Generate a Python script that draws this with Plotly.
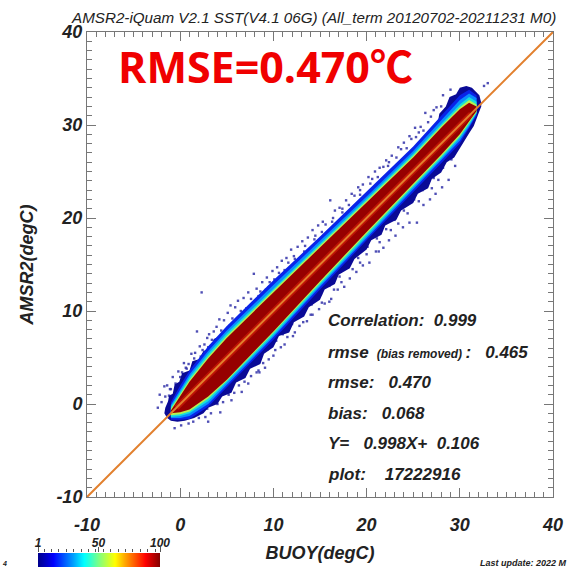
import plotly.graph_objects as go

W, H = 570, 569
L_PX, R_PX, T_PX, B_PX = 87, 553, 32, 497

title_text = "AMSR2-iQuam V2.1 SST(V4.1 06G) (All_term 20120702-20211231 M0)"
headline = "RMSE=0.470℃"
x_label = "BUOY(degC)"
y_label = "AMSR2(degC)"
tick_vals = [-10, 0, 10, 20, 30, 40]
tick_text = ["-10", "0", "10", "20", "30", "40"]
line_ends = [-10, 40]
halo_ends = [-0.4, 31.2]

stats_lines = [
    "Correlation:  0.999",
    "rmse <span style='font-size:12px'> (bias removed) </span>:   0.465",
    "rmse:   0.470",
    "bias:   0.068",
    "Y=   0.998X+  0.106",
    "plot:    17222916",
]
stats_px_y = [320, 352, 382, 413, 443, 474]

band_x = [-1.0, 0, 1, 3, 5, 10, 15, 20, 25, 28, 30, 31, 31.8]
blue_up = [0.2, 2.0, 3.6, 6.2, 8.4, 13.3, 18.0, 22.8, 27.7, 31.0, 33.2, 33.8, 33.2]
blue_lo = [-1.7, -1.7, -1.6, -0.3, 1.8, 6.9, 12.3, 17.6, 22.8, 25.9, 28.0, 29.6, 31.0]
azure_up = [-0.1, 1.6, 3.2, 5.7, 7.9, 12.8, 17.5, 22.3, 27.2, 30.5, 32.7, 33.4, 32.9]
azure_lo = [-1.5, -1.5, -1.3, 0.0, 2.1, 7.2, 12.6, 17.9, 23.1, 26.2, 28.3, 29.8, 31.2]
cyan_up = [-0.3, 1.3, 2.9, 5.4, 7.6, 12.4, 17.2, 22.0, 26.9, 30.1, 32.2, 33.0, 32.5]
cyan_lo = [-1.4, -1.3, -1.0, 0.3, 2.3, 7.4, 12.8, 18.1, 23.3, 26.4, 28.6, 30.0, 31.3]
green_up = [-0.5, 1.1, 2.6, 5.1, 7.3, 12.2, 17.0, 21.8, 26.7, 29.9, 31.9, 32.7, 32.2]
green_lo = [-1.2, -1.1, -0.8, 0.6, 2.5, 7.65, 13.0, 18.3, 23.5, 26.6, 28.8, 30.2, 31.4]
red_up = [-0.7, 0.9, 2.4, 4.9, 7.1, 12.0, 16.8, 21.6, 26.5, 29.7, 31.7, 32.4, 32.0]
red_lo = [-1.0, -0.9, -0.6, 0.8, 2.6, 7.8, 13.2, 18.5, 23.7, 26.8, 29.0, 30.4, 31.5]

navy_up_x = [-1.7, -1.6, -1.3, -1.2, -0.8, -0.6, -0.1, 0.2, 1, 1.3, 2, 2.5, 3.3, 3.6, 4.5, 5, 6, 6.5, 7.4, 8, 9, 9.4,
             10.5, 11, 12, 12.5, 13.6, 14, 15, 15.6, 16.8, 17.2, 18.3, 18.9, 20, 20.5, 21.7, 22.2, 23.3, 23.9, 25,
             25.5, 26.5, 27, 27.6, 27.8, 28.5, 28.9, 29.6, 30, 30.7, 31.3, 31.7, 32.1, 32.3]
navy_up_y = [-1.0, -0.4, 0.3, 0.9, 1.1, 2.1, 2.4, 3.3, 3.6, 4.6, 4.8, 5.7, 6.0, 7.0, 7.4, 8.3, 8.8, 9.8, 10.1, 11.1,
             11.7, 12.7, 13.1, 14.1, 14.5, 15.5, 15.9, 16.9, 17.5, 18.5, 19.0, 20.1, 20.5, 21.7, 22.1, 23.2, 23.5,
             24.6, 25.0, 26.1, 26.5, 27.7, 28.2, 29.5, 30.0, 31.2, 32.0, 33.0, 33.3, 34.0, 34.2, 34.0, 33.6, 33.2,
             32.4]
navy_lo_x = [-1.7, -1.4, -1, -0.3, 0.5, 1.5, 2.5, 3, 4, 4.5, 5.5, 6, 7, 7.5, 8.6, 9, 10, 10.6, 11.7, 12.2, 13.3, 13.8,
             15, 15.5, 16.6, 17, 18.2, 18.7, 20, 20.5, 21.6, 22, 23.2, 23.7, 25, 25.5, 26.6, 27, 28, 28.6, 29.4, 30,
             30.5, 31, 31.5, 32, 32.3]
navy_lo_y = [-1.0, -1.5, -1.8, -1.9, -1.8, -1.5, -1.0, -0.4, 0.0, 0.8, 1.2, 2.3, 2.8, 3.8, 4.3, 5.4, 6.1, 7.3, 7.7,
             8.8, 9.4, 10.4, 11.2, 12.3, 12.9, 13.9, 14.6, 15.6, 16.6, 17.6, 18.2, 19.2, 19.8, 20.8, 21.6, 22.6,
             23.2, 24.2, 24.9, 26.0, 26.5, 27.6, 28.3, 29.1, 29.9, 31.2, 32.0]

speck_x = [-2.4, -2.2, -2.0, -1.7, -1.4, -1.2, -0.8, -0.5, -0.2, 0.2, 0.4, 0.9, 1.2, 1.6, 1.8, 2.1, 2.6, 2.9, 3.1, 3.6,
           3.9, 4.2, 4.7, 5.1, 5.4, 5.9, 6.2, 6.8, 7.3, 7.9, 8.2, 8.8, 9.3, 9.9, 10.4, 10.9, 11.4, 11.9, 12.6, 13.1,
           13.7, 14.2, 14.8, 15.3, 16.1, 16.6, 17.1, 17.8, 18.4, 19.1, 19.6, 20.2, 20.9, 21.4, 22.1, 22.7, 23.4, 24.0,
           24.6, 25.2, 25.8, 26.3, 26.9, 27.2, 27.5, 28.0, 28.2, 29.0, 33.0, 32.6,
           -0.6, 0.1, 0.9, 1.4, 2.0, 2.7, 3.3, 4.0, 4.6, 5.2, 5.8, 6.3, 6.9, 7.6, 8.2, 8.9, 9.5, 10.2, 10.8, 11.5, 12.1,
           12.8, 13.6, 14.2, 14.9, 15.5, 16.2, 16.9, 17.6, 18.2, 18.9, 19.6, 20.3, 21.0, 21.8, 22.4, 23.1, 23.9, 24.6,
           25.4, 26.1, 26.8, 27.4, 28.1, 28.8, 29.5, 2.3, 8.4, 16.0, 21.3,
           -1.6, -1.0, 0.6, 1.5, 2.4, 3.4, 4.4, 5.6, 6.5, 7.6, 8.6, 9.6, 10.6, 11.6, 12.2, 13.4, 14.5, 15.6, 16.4, 17.4,
           18.7, 19.3, 20.6, 21.8, 22.4, 23.7, 24.8, 25.6, 26.6, 3.0, 4.3, 5.5, 6.6, 7.3, 8.5, 9.1, 10.0, 11.2, 12.3,
           13.2, 14.0, 15.2, 16.5, 17.3, 18.5, 19.3, 20.0, 21.4, 22.6, 23.4, 24.4, 25.6, 27.0, 27.7,
           -1.1, 0.0, 0.7, 2.2, 3.0, 4.3, 5.3, 6.4, 7.1, 8.4, 9.2, 10.1, 11.2, 12.3, 13.3, 14.4, 15.2, 16.3, 17.4, 18.1,
           19.3, 20.4, 21.2, 22.3, 23.2, 24.3, 25.3, 26.1, 2.9, 3.8, 5.0, 6.0, 6.9, 8.0, 9.4, 10.3, 11.0, 12.0, 13.0,
           14.1, 15.1, 16.0, 17.1, 18.0, 19.1, 20.1, 21.1, 22.1, 23.0, 24.0, 25.1, 26.0, 27.2, 28.2, 29.1]
speck_y = [-0.4, 1.0, 0.2, 1.9, 2.0, 0.9, 2.9, 2.2, 3.5, 3.4, 4.4, 4.3, 5.4, 5.5, 7.8, 6.2, 6.4, 7.1, 7.5, 7.8,
           8.3, 9.1, 9.0, 9.8, 10.6, 10.4, 11.1, 11.4, 12.0, 14.0, 12.4, 13.1, 13.6, 14.3, 14.7, 15.4, 15.7, 16.6, 16.9,
           17.5, 17.9, 18.7, 19.2, 19.6, 21.9, 20.8, 21.1, 21.9, 22.6, 23.3, 23.6, 24.4, 25.0, 25.4, 26.2, 26.7, 27.6,
           28.1, 28.8, 29.7, 29.8, 31.3, 30.9, 31.6, 31.9, 32.0, 33.2, 33.8, 34.5, 34.2,
           -2.6, -2.3, -2.1, -1.9, -1.5, -1.4, -1.0, 0.0, 0.2, 1.0, 1.2, 2.0, 2.4, 3.0, 3.4, 4.4, 4.8, 5.8, 6.1, 7.2,
           7.3, 8.4, 8.9, 9.6, 10.2, 10.8, 11.3, 12.3, 12.6, 13.5, 14.2, 14.9, 15.2, 16.4, 16.8, 17.6, 18.1, 19.0, 19.5,
           19.5, 21.4, 22.0, 22.6, 23.3, 24.1, 25.6, 12.0, 3.6, 11.0, 16.4,
           0.8, 1.6, 3.9, 4.9, 5.8, 6.9, 7.9, 9.2, 10.0, 11.3, 12.1, 13.1, 14.1, 15.2, 15.9, 17.0, 18.1, 19.3, 20.0, 21.0,
           22.4, 23.0, 24.2, 25.5, 26.0, 27.4, 28.5, 29.2, 30.3, -1.9, -0.9, 0.4, 1.3, 2.2, 3.4, 3.9, 5.2, 6.4, 7.7,
           8.8, 9.6, 10.9, 12.3, 13.1, 14.5, 15.2, 16.1, 17.4, 18.7, 19.4, 20.5, 21.8, 23.2, 24.1,
           1.6, 2.9, 3.8, 5.1, 6.1, 7.3, 8.4, 9.4, 10.3, 11.6, 12.3, 13.4, 14.4, 15.6, 16.4, 17.7, 18.5, 19.6, 20.6, 21.4,
           22.5, 23.7, 24.4, 25.6, 26.5, 27.5, 28.7, 29.4, -0.5, 0.4, 1.5, 2.5, 3.3, 4.5, 5.9, 6.8, 7.5, 8.6, 9.6,
           10.7, 11.8, 12.7, 13.7, 14.7, 15.7, 16.9, 17.8, 18.8, 19.8, 20.8, 22.0, 23.0, 24.3, 25.4, 26.3]

cb_levels = [1, 8, 15, 22, 29, 36, 43, 50, 57, 64, 71, 78, 85, 92, 100]
cb_ticks = [1, 50, 100]
jet = [[0, "#00008f"], [0.125, "#0000ff"], [0.375, "#00ffff"], [0.625, "#ffff00"], [0.875, "#ff0000"], [1, "#800000"]]

NAVY, BLUE, AZURE, CYAN, GREEN, RED = "#0a0a96", "#0a24e8", "#0a8cff", "#18e0d8", "#b8f050", "#960000"
FONT = "Liberation Sans"
fig = go.Figure()


def band(xu, yu, xl, yl, color):
    fig.add_trace(go.Scatter(x=list(xu) + list(xl)[::-1], y=list(yu) + list(yl)[::-1], mode="lines",
                             fill="toself", fillcolor=color, line=dict(width=0, color=color),
                             hoverinfo="skip", showlegend=False))


fig.add_trace(go.Scatter(x=speck_x, y=speck_y, mode="markers", showlegend=False,
                         marker=dict(symbol="square", size=2.4, color="#3030a8", opacity=0.85, line=dict(width=0))))
band(navy_up_x, navy_up_y, navy_lo_x, navy_lo_y, NAVY)
band(band_x, blue_up, band_x, blue_lo, BLUE)
band(band_x, azure_up, band_x, azure_lo, AZURE)
band(band_x, cyan_up, band_x, cyan_lo, CYAN)
band(band_x, green_up, band_x, green_lo, GREEN)
band(band_x, red_up, band_x, red_lo, RED)
fig.add_trace(go.Scatter(x=halo_ends, y=halo_ends, mode="lines", showlegend=False,
                         line=dict(color="#d82008", width=5.5), opacity=0.6))
fig.add_trace(go.Scatter(x=line_ends, y=line_ends, mode="lines", showlegend=False,
                         line=dict(color="#e2802e", width=2)))

fig.add_trace(go.Heatmap(x=cb_levels, y=[0, 1], z=[cb_levels, cb_levels], xaxis="x2", yaxis="y2",
                         colorscale=jet, showscale=False, zsmooth="best", hoverinfo="skip"))

tick_font = dict(family=FONT, size=18, color="#222222", weight=700, style="italic")
axis_common = dict(range=[-10, 40], tickvals=tick_vals, ticktext=tick_text, ticks="inside", ticklen=9, tickwidth=1,
                   tickcolor="#777777", showline=True, linecolor="#777777", linewidth=1, mirror="ticks",
                   showgrid=False, zeroline=False, tickfont=tick_font, automargin=False,
                   minor=dict(dtick=1, ticks="inside", ticklen=5, tickwidth=1, tickcolor="#777777", showgrid=False))
title_font = dict(family=FONT, size=18, color="#222222", weight=700, style="italic")

fig.update_layout(
    width=W, height=H, margin=dict(l=0, r=0, t=0, b=0, autoexpand=False), paper_bgcolor="white", plot_bgcolor="white",
    showlegend=False,
    xaxis=dict(domain=[L_PX / W, R_PX / W], anchor="y", ticklabelstandoff=11,
               title=dict(text=x_label, font=title_font, standoff=12), **axis_common),
    yaxis=dict(domain=[(H - B_PX) / H, (H - T_PX) / H], anchor="x",
               title=dict(text=y_label, font=title_font, standoff=18), **axis_common),
    xaxis2=dict(domain=[38 / W, 160 / W], anchor="y2", range=[1, 100], side="top", tickvals=cb_ticks, ticks="outside",
                ticklen=5, tickwidth=1, tickcolor="#555555", showgrid=False, zeroline=False, ticklabelstandoff=-5,
                automargin=False,
                tickfont=dict(family=FONT, size=12, color="#222222", weight=700, style="italic"),
                minor=dict(dtick=6, ticks="outside", ticklen=3, tickwidth=1, tickcolor="#555555", showgrid=False)),
    yaxis2=dict(domain=[2 / H, 16 / H], anchor="x2", range=[0, 1], visible=False),
)


def note(text, px, py, size, anchor="left", color="#222222", weight=700, style="italic", family=FONT):
    fig.add_annotation(text=text, xref="paper", yref="paper", x=px / W, y=1 - py / H, xanchor=anchor, yanchor="middle",
                       showarrow=False, font=dict(family=family, size=size, color=color, weight=weight, style=style))


note(title_text, 69, 18, 15.2, weight=400)
note(headline, 116, 66, 43, color="#f00000", style="normal", family="Open Sans, Noto Sans CJK SC")
for line, py in zip(stats_lines, stats_px_y):
    note(line, 326, py, 17)
note("Last update: 2022 M", 478, 563, 9)
note("4", 0, 563, 7)

fig.write_html("out.html", config={"displayModeBar": False},
               post_script="document.body.style.margin='0';document.body.style.overflow='hidden';")
